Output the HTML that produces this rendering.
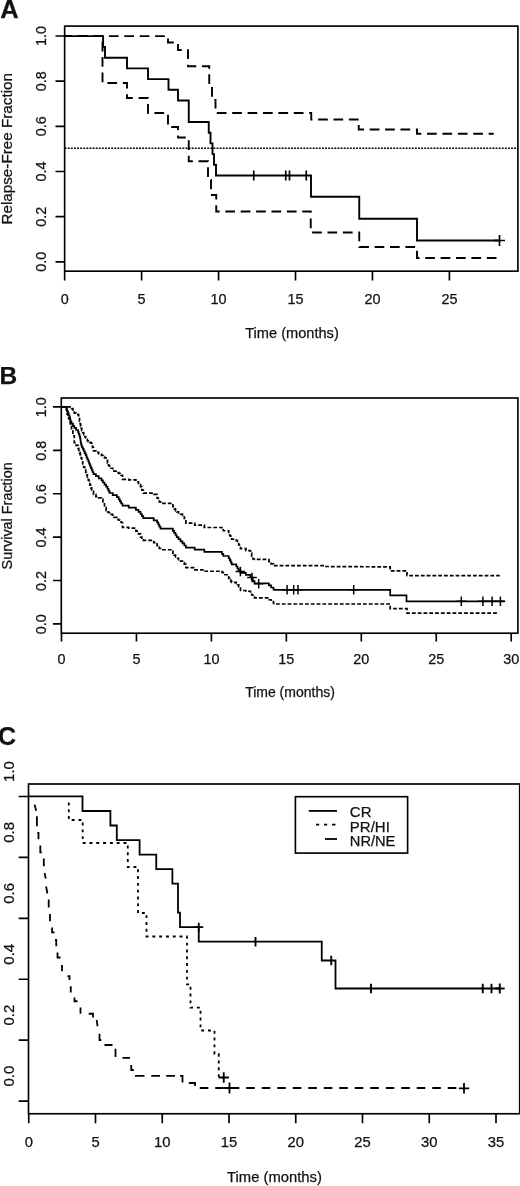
<!DOCTYPE html>
<html lang="en"><head><meta charset="utf-8"><title>Figure</title>
<style>
html,body{margin:0;padding:0;background:#fff;}
body{width:520px;height:1186px;overflow:hidden;}
svg{display:block;}
text{font-family:"Liberation Sans",Arial,sans-serif;fill:#111;stroke:#111;stroke-width:0.25px;}
</style></head><body>
<svg width="520" height="1186" viewBox="0 0 520 1186">
<rect width="520" height="1186" fill="#fff"/>
<rect x="64.66" y="26.1" width="453.24" height="245.06000000000003" fill="none" stroke="#000" stroke-width="1.65"/>
<path d="M55.5,261.8 H64.66 M55.5,216.64000000000001 H64.66 M55.5,171.48000000000002 H64.66 M55.5,126.32 H64.66 M55.5,81.16 H64.66 M55.5,36.0 H64.66 M64.66,271.16 V280.4 M141.61,271.16 V280.4 M218.56,271.16 V280.4 M295.51,271.16 V280.4 M372.46,271.16 V280.4 M449.41,271.16 V280.4 " fill="none" stroke="#000" stroke-width="1.65" stroke-linecap="butt" stroke-linejoin="miter"/>
<text x="46" y="261.8" font-size="14.4" text-anchor="middle" transform="rotate(-90 46 261.8)" >0.0</text>
<text x="64.66" y="304.4" font-size="14.4" text-anchor="middle" >0</text>
<text x="46" y="216.64" font-size="14.4" text-anchor="middle" transform="rotate(-90 46 216.64)" >0.2</text>
<text x="141.61" y="304.4" font-size="14.4" text-anchor="middle" >5</text>
<text x="46" y="171.48" font-size="14.4" text-anchor="middle" transform="rotate(-90 46 171.48)" >0.4</text>
<text x="218.56" y="304.4" font-size="14.4" text-anchor="middle" >10</text>
<text x="46" y="126.32" font-size="14.4" text-anchor="middle" transform="rotate(-90 46 126.32)" >0.6</text>
<text x="295.51" y="304.4" font-size="14.4" text-anchor="middle" >15</text>
<text x="46" y="81.16" font-size="14.4" text-anchor="middle" transform="rotate(-90 46 81.16)" >0.8</text>
<text x="372.46" y="304.4" font-size="14.4" text-anchor="middle" >20</text>
<text x="46" y="36.0" font-size="14.4" text-anchor="middle" transform="rotate(-90 46 36.0)" >1.0</text>
<text x="449.41" y="304.4" font-size="14.4" text-anchor="middle" >25</text>
<text x="292" y="338.4" font-size="14.6" text-anchor="middle" >Time (months)</text>
<text x="12" y="148.8" font-size="14.5" text-anchor="middle" transform="rotate(-90 12 148.8)" textLength="151.5" lengthAdjust="spacingAndGlyphs">Relapse-Free Fraction</text>
<text x="0.2" y="18.1" font-size="25.5" text-anchor="start" font-weight="bold" stroke="#111" stroke-width="0.4">A</text>
<path d="M64.66,148.2 H517.9" fill="none" stroke="#000" stroke-width="1.6" stroke-dasharray="1.9 1.2" stroke-linecap="butt" stroke-linejoin="miter"/>
<path d="M64.5,36.1 H103.1 V46.9 H105 V57.7 H127 V68.4 H148 V79.1 H168.5 V89.8 H178 V100.5 H188.75 V122 H208.75 V132.7 H210.5 V143.4 H212.5 V154.1 H214 V164.8 H216 V175.5 H311 V196.75 H359.25 V218.75 H417 V240.5 H499.5" fill="none" stroke="#000" stroke-width="1.9" stroke-linecap="butt" stroke-linejoin="miter"/>
<path d="M253.75,170.5 V180.5 M285.75,170.5 V180.5 M289.5,170.5 V180.5 M306.25,170.5 V180.5 " fill="none" stroke="#000" stroke-width="1.7" stroke-linecap="butt" stroke-linejoin="miter"/>
<path d="M499.5,235.0 V246.0 M494.0,240.5 H505.0" fill="none" stroke="#000" stroke-width="1.7" stroke-linecap="butt" stroke-linejoin="miter"/>
<path d="M64.5,36.1 H168 V42.5 H178 V50 H188 V66.25 H209.25 V85 H212 V100 H215.5 V113 H311.25 V119.5 H358.75 V129.5 H417 V133.75 H493.75" fill="none" stroke="#000" stroke-width="1.9" stroke-dasharray="9.7 5.7" stroke-dashoffset="1.8" stroke-linecap="butt" stroke-linejoin="miter"/>
<path d="M64.5,36.1 H102.5 V83 H127 V98 H148 V113 H168 V127 H178 V137.5 H188.75 V161.25 H208 V180 H211 V195 H216.25 V211.5 H310.75 V232.5 H359.25 V247 H417 V258 H500.75" fill="none" stroke="#000" stroke-width="1.9" stroke-dasharray="9.7 5.7" stroke-dashoffset="2.6" stroke-linecap="butt" stroke-linejoin="miter"/>
<rect x="61.3" y="398.0" width="456.59999999999997" height="235.20000000000005" fill="none" stroke="#000" stroke-width="1.65"/>
<path d="M53,623.90 H61.3 M53,580.50 H61.3 M53,537.10 H61.3 M53,493.70 H61.3 M53,450.30 H61.3 M53,406.90 H61.3 M61.50,633.2 V641.5 M136.45,633.2 V641.5 M211.40,633.2 V641.5 M286.35,633.2 V641.5 M361.30,633.2 V641.5 M436.25,633.2 V641.5 M511.20,633.2 V641.5 " fill="none" stroke="#000" stroke-width="1.65" stroke-linecap="butt" stroke-linejoin="miter"/>
<text x="45.6" y="624.3" font-size="14.4" text-anchor="middle" transform="rotate(-90 45.6 624.3)" >0.0</text>
<text x="45.6" y="580.9" font-size="14.4" text-anchor="middle" transform="rotate(-90 45.6 580.9)" >0.2</text>
<text x="45.6" y="537.5" font-size="14.4" text-anchor="middle" transform="rotate(-90 45.6 537.5)" >0.4</text>
<text x="45.6" y="494.1" font-size="14.4" text-anchor="middle" transform="rotate(-90 45.6 494.1)" >0.6</text>
<text x="45.6" y="450.7" font-size="14.4" text-anchor="middle" transform="rotate(-90 45.6 450.7)" >0.8</text>
<text x="45.6" y="407.3" font-size="14.4" text-anchor="middle" transform="rotate(-90 45.6 407.3)" >1.0</text>
<text x="61.5" y="664.4" font-size="14.4" text-anchor="middle" >0</text>
<text x="136.45" y="664.4" font-size="14.4" text-anchor="middle" >5</text>
<text x="211.4" y="664.4" font-size="14.4" text-anchor="middle" >10</text>
<text x="286.35" y="664.4" font-size="14.4" text-anchor="middle" >15</text>
<text x="361.3" y="664.4" font-size="14.4" text-anchor="middle" >20</text>
<text x="436.25" y="664.4" font-size="14.4" text-anchor="middle" >25</text>
<text x="511.2" y="664.4" font-size="14.4" text-anchor="middle" >30</text>
<text x="290" y="696.8" font-size="14" text-anchor="middle" >Time (months)</text>
<text x="11.8" y="515.8" font-size="14.4" text-anchor="middle" transform="rotate(-90 11.8 515.8)" >Survival Fraction</text>
<text x="-0.6" y="384.2" font-size="24.5" text-anchor="start" font-weight="bold" stroke="#111" stroke-width="0.4">B</text>
<path d="M61.3,406.9 H66.5 V409.0 H67.1 V411.1 H67.9 V413.2 H68.7 V415.3 H69.5 V417.4 H70.1 V419.5 H70.5 V421.6 H71.5 V423.7 H72.9 V425.8 H74.3 V427.9 H76.1 V430.0 H78.1 V432.1 H78.7 V434.2 H79.5 V436.3 H80.1 V438.4 H80.5 V440.5 H80.7 V442.6 H81.1 V444.7 H81.7 V446.8 H82.7 V448.9 H83.7 V451.0 H84.7 V453.1 H85.7 V455.2 H86.5 V457.3 H87.3 V459.4 H88.3 V461.5 H89.1 V463.6 H89.9 V465.7 H90.7 V467.8 H91.7 V469.9 H92.5 V472.0 H93.5 V474.1 H95.9 V476.2 H98.7 V478.3 H101.5 V480.4 H102.9 V482.5 H104.5 V484.6 H106.1 V486.7 H107.5 V488.8 H108.5 V490.9 H109.5 V493.0 H112.7 V495.1 H116.9 V497.2 H118.7 V499.3 H119.9 V501.4 H121.1 V503.5 H122.5 V505.6 H128.7 V507.7 H135.9 V509.8 H138.5 V511.9 H140.5 V514.0 H141.9 V516.1 H143.3 V518.2 H153.7 V520.3 H157.1 V522.4 H158.3 V524.5 H159.3 V526.6 H160.5 V528.7 H172.9 V530.8 H174.1 V532.9 H175.5 V535.0 H176.7 V537.1 H178.5 V539.2 H180.5 V541.3 H182.5 V543.4 H184.3 V545.5 H185.9 V547.6 H194.7 V549.7 H204.3 V551.8 H221.9 V553.9 H223.3 V556.0 H228.7 V558.1 H229.7 V560.2 H230.7 V562.3 H231.7 V564.4 H236.3 V566.5 H237.5 V568.6 H238.7 V570.7 H240.5 V572.8 H245.9 V574.9 H250.5 V577.0 H251.7 V579.1 H252.9 V581.2 H254.5 V583.3 H268.9 V585.4 H271.1 V587.5 H273.5 V589.6 H275 V589.8 L390.2,589.8 L390.2,595.4 L406.5,595.4 L406.5,601.3 L504.6,601.3" fill="none" stroke="#000" stroke-width="1.7" stroke-linecap="butt" stroke-linejoin="miter"/>
<path d="M61.3,406.9 H66.5 V406.9 H67.1 V406.9 H67.9 V406.9 H68.7 V406.9 H69.5 V406.9 H70.1 V406.9 H70.5 V406.9 H71.5 V408.55 H72.9 V410.99 H74.3 V413.21 H76.1 V414.35 H78.1 V414.86 H78.7 V417.1 H79.5 V421.3 H80.1 V423.68 H80.5 V424.87 H80.7 V426.05 H81.1 V428.03 H81.7 V430.6 H82.7 V432.62 H83.7 V434.64 H84.7 V436.57 H85.7 V438.02 H86.5 V439.31 H87.3 V440.77 H88.3 V441.58 H89.1 V442.03 H89.9 V442.47 H90.7 V442.97 H91.7 V445.1 H92.5 V447.33 H93.5 V450.97 H95.9 V452.42 H98.7 V453.99 H101.5 V455.41 H102.9 V456.63 H104.5 V457.93 H106.1 V460.31 H107.5 V463.03 H108.5 V465.29 H109.5 V468.27 H112.7 V471.15 H116.9 V472.65 H118.7 V473.4 H119.9 V474.0 H121.1 V475.23 H122.5 V479.32 H128.7 V479.9 H135.9 V481.85 H138.5 V484.55 H140.5 V486.55 H141.9 V490.09 H143.3 V493.13 H153.7 V494.36 H157.1 V498.17 H158.3 V499.99 H159.3 V501.81 H160.5 V503.41 H172.9 V506.71 H174.1 V508.79 H175.5 V510.88 H176.7 V511.94 H178.5 V513.01 H180.5 V514.15 H182.5 V515.67 H184.3 V518.52 H185.9 V523.13 H194.7 V525.2 H204.3 V527.5 H221.9 V528.6 H223.3 V530.77 H228.7 V533.38 H229.7 V535.69 H230.7 V538.0 H231.7 V539.25 H236.3 V540.55 H237.5 V541.46 H238.7 V544.93 H240.5 V548.65 H245.9 V550.63 H250.5 V553.19 H251.7 V556.1 H252.9 V559.01 H254.5 V559.44 H268.9 V561.53 H271.1 V563.87 H273.5 V565.6 H325 V566.5 L390.2,566.9 L390.2,570.8 L407,570.8 L407,575.6 L499.8,575.6" fill="none" stroke="#000" stroke-width="1.7" stroke-dasharray="3.8 2" stroke-linecap="butt" stroke-linejoin="miter"/>
<path d="M61.3,406.9 H66.5 V412.21 H67.1 V414.12 H67.9 V416.28 H68.7 V418.68 H69.5 V421.05 H70.1 V422.74 H70.5 V425.67 H71.5 V431.01 H72.9 V435.74 H74.3 V442.76 H76.1 V445.36 H78.1 V448.27 H78.7 V450.48 H79.5 V452.7 H80.1 V454.28 H80.5 V455.23 H80.7 V456.18 H81.1 V457.86 H81.7 V460.57 H82.7 V463.96 H83.7 V467.13 H84.7 V469.95 H85.7 V472.49 H86.5 V474.74 H87.3 V477.31 H88.3 V480.11 H89.1 V482.59 H89.9 V485.07 H90.7 V487.87 H91.7 V489.85 H92.5 V491.42 H93.5 V494.38 H95.9 V496.55 H98.7 V497.95 H101.5 V499.0 H102.9 V501.87 H104.5 V507.53 H106.1 V510.7 H107.5 V511.74 H108.5 V512.61 H109.5 V514.44 H112.7 V517.39 H116.9 V519.29 H118.7 V520.24 H119.9 V520.99 H121.1 V522.5 H122.5 V527.43 H128.7 V528.06 H135.9 V531.15 H138.5 V533.88 H140.5 V537.2 H141.9 V539.81 H143.3 V540.32 H153.7 V542.66 H157.1 V545.71 H158.3 V547.17 H159.3 V548.52 H160.5 V549.74 H172.9 V553.39 H174.1 V555.21 H175.5 V557.02 H176.7 V558.23 H178.5 V559.59 H180.5 V561.03 H182.5 V562.49 H184.3 V564.16 H185.9 V567.58 H194.7 V569.82 H204.3 V571.26 H221.9 V572.44 H223.3 V574.73 H228.7 V578.38 H229.7 V579.84 H230.7 V581.3 H231.7 V582.28 H236.3 V583.3 H237.5 V584.75 H238.7 V586.55 H240.5 V590.5 H245.9 V591.26 H250.5 V593.18 H251.7 V595.01 H252.9 V597.15 H254.5 V597.84 H268.9 V599.75 H271.1 V601.7 H273.5 V603.36 H275 V604 L390.2,604 L390.2,608.7 L407,608.7 L407,613.1 L497.9,613.1" fill="none" stroke="#000" stroke-width="1.7" stroke-dasharray="3.8 2" stroke-linecap="butt" stroke-linejoin="miter"/>
<path d="M240.4,566.7 V576.3 M235.6,571.5 H245.20000000000002" fill="none" stroke="#000" stroke-width="1.5" stroke-linecap="butt" stroke-linejoin="miter"/>
<path d="M252,572.7 V582.3 M247.2,577.5 H256.8" fill="none" stroke="#000" stroke-width="1.5" stroke-linecap="butt" stroke-linejoin="miter"/>
<path d="M258.7,579.0 V588.5999999999999 M253.89999999999998,583.8 H263.5" fill="none" stroke="#000" stroke-width="1.5" stroke-linecap="butt" stroke-linejoin="miter"/>
<path d="M287.1,585.0 V594.5999999999999 M282.3,589.8 H291.90000000000003" fill="none" stroke="#000" stroke-width="1.5" stroke-linecap="butt" stroke-linejoin="miter"/>
<path d="M293.7,585.0 V594.5999999999999 M288.9,589.8 H298.5" fill="none" stroke="#000" stroke-width="1.5" stroke-linecap="butt" stroke-linejoin="miter"/>
<path d="M298,585.0 V594.5999999999999 M293.2,589.8 H302.8" fill="none" stroke="#000" stroke-width="1.5" stroke-linecap="butt" stroke-linejoin="miter"/>
<path d="M353.7,585.0 V594.5999999999999 M348.9,589.8 H358.5" fill="none" stroke="#000" stroke-width="1.5" stroke-linecap="butt" stroke-linejoin="miter"/>
<path d="M461.3,596.5 V606.0999999999999 M456.5,601.3 H466.1" fill="none" stroke="#000" stroke-width="1.5" stroke-linecap="butt" stroke-linejoin="miter"/>
<path d="M482.9,596.5 V606.0999999999999 M478.09999999999997,601.3 H487.7" fill="none" stroke="#000" stroke-width="1.5" stroke-linecap="butt" stroke-linejoin="miter"/>
<path d="M492.1,596.5 V606.0999999999999 M487.3,601.3 H496.90000000000003" fill="none" stroke="#000" stroke-width="1.5" stroke-linecap="butt" stroke-linejoin="miter"/>
<path d="M500.4,596.5 V606.0999999999999 M495.59999999999997,601.3 H505.2" fill="none" stroke="#000" stroke-width="1.5" stroke-linecap="butt" stroke-linejoin="miter"/>
<rect x="28.5" y="784.0" width="491.20000000000005" height="329.75" fill="none" stroke="#000" stroke-width="1.65"/>
<path d="M18.7,1101.10 H28.5 M18.7,1040.18 H28.5 M18.7,979.26 H28.5 M18.7,918.34 H28.5 M18.7,857.42 H28.5 M18.7,796.50 H28.5 M28.75,1113.75 V1123.3 M95.50,1113.75 V1123.3 M162.25,1113.75 V1123.3 M229.00,1113.75 V1123.3 M295.75,1113.75 V1123.3 M362.50,1113.75 V1123.3 M429.25,1113.75 V1123.3 M496.00,1113.75 V1123.3 " fill="none" stroke="#000" stroke-width="1.65" stroke-linecap="butt" stroke-linejoin="miter"/>
<text x="14.2" y="1076.1" font-size="15" text-anchor="middle" transform="rotate(-90 14.2 1076.1)" >0.0</text>
<text x="14.2" y="1015.18" font-size="15" text-anchor="middle" transform="rotate(-90 14.2 1015.18)" >0.2</text>
<text x="14.2" y="954.26" font-size="15" text-anchor="middle" transform="rotate(-90 14.2 954.26)" >0.4</text>
<text x="14.2" y="893.34" font-size="15" text-anchor="middle" transform="rotate(-90 14.2 893.34)" >0.6</text>
<text x="14.2" y="832.42" font-size="15" text-anchor="middle" transform="rotate(-90 14.2 832.42)" >0.8</text>
<text x="14.2" y="771.5" font-size="15" text-anchor="middle" transform="rotate(-90 14.2 771.5)" >1.0</text>
<text x="28.75" y="1147.3" font-size="14.8" text-anchor="middle" >0</text>
<text x="95.5" y="1147.3" font-size="14.8" text-anchor="middle" >5</text>
<text x="162.25" y="1147.3" font-size="14.8" text-anchor="middle" >10</text>
<text x="229.0" y="1147.3" font-size="14.8" text-anchor="middle" >15</text>
<text x="295.75" y="1147.3" font-size="14.8" text-anchor="middle" >20</text>
<text x="362.5" y="1147.3" font-size="14.8" text-anchor="middle" >25</text>
<text x="429.25" y="1147.3" font-size="14.8" text-anchor="middle" >30</text>
<text x="496.0" y="1147.3" font-size="14.8" text-anchor="middle" >35</text>
<text x="274.5" y="1182" font-size="14.8" text-anchor="middle" >Time (months)</text>
<text x="-1.9" y="745.4" font-size="25" text-anchor="start" font-weight="bold" stroke="#111" stroke-width="0.4">C</text>
<path d="M28.6,796.3 H82.5 V811 H110.4 V825.5 H116.8 V840.1 H139.6 V854.6 H156.25 V869.1 H172.4 V883.6 H178 V912.7 H180 V927.2 H198.75 V941.7 H321.75 V960.5 H335.5 V988.5 H499.5" fill="none" stroke="#000" stroke-width="1.8" stroke-linecap="butt" stroke-linejoin="miter"/>
<path d="M198.75,922.7 V931.7 M194.25,927.2 H203.25" fill="none" stroke="#000" stroke-width="1.8" stroke-linecap="butt" stroke-linejoin="miter"/>
<path d="M255.5,937.0 V946.4000000000001 M331.25,955.8 V965.2 M371,983.8 V993.2 M482.75,983.8 V993.2 M491.5,983.8 V993.2 " fill="none" stroke="#000" stroke-width="1.9" stroke-linecap="butt" stroke-linejoin="miter"/>
<path d="M499.75,983.6 V993.4 M494.85,988.5 H504.65" fill="none" stroke="#000" stroke-width="1.9" stroke-linecap="butt" stroke-linejoin="miter"/>
<path d="M68.8,802.5 V820 H82.7 V843 H127.8 V867 H138 V913 H146.5 V936.5 H187 V984.3 H190.5 V1007.6 H200.5 V1030.5 H214.5 V1054 H218.75 V1077.5 H223.75" fill="none" stroke="#000" stroke-width="1.8" stroke-dasharray="2.9 3.9" stroke-linecap="butt" stroke-linejoin="miter"/>
<path d="M223.75,1072.3 V1082.7 M218.55,1077.5 H228.95" fill="none" stroke="#000" stroke-width="1.8" stroke-linecap="butt" stroke-linejoin="miter"/>
<path d="M34.6,804.6 L36.2,810.8 M36.9,816.2 L36.9,826.2 M37.3,833 L38.5,833 L38.5,839.2 M40.3,845.4 L40.3,852.3 L41.8,852.3 M43.8,858.5 L43.8,866.2 M44.6,873 L45.8,878.5 M46.1,886.5 L47.4,893.5 M48.7,899.6 L48.7,907.6 M50,914 L50,921.3 M52.1,927.6 L52.1,932.4 L54.5,932.4 M55,940 L56.25,940 L56.25,946.25 M57.5,952.5 L57.5,957.5 L60.5,957.5 M62,965 L62,971.25 M67.5,976.25 L69.5,976.25 L69.5,980 M70.75,986.25 L70.75,992.5 M74.5,997.5 L74.5,1001.25 L77.5,1001.25 M80.5,1007.5 L80.5,1013.75 M88.75,1013.75 L93,1013.75 L93,1017.5 M96.7,1020 L97.5,1026.25 M99.5,1033.75 L99.5,1040 L101.25,1040 M104.5,1045 L112.5,1045 M115.5,1048.75 L115.5,1057 M122.5,1057.8 L130,1057.8 M131.25,1065 L131.25,1070 L133.75,1070 M135,1075.8 L144.5,1075.8 M151.25,1075.8 L160,1075.8 M166.25,1075.8 L175,1075.8 M180,1075.8 L182.5,1075.8 L182.5,1082.5 M188.75,1083 L195,1083 L195,1086" fill="none" stroke="#000" stroke-width="1.8" stroke-linecap="butt" stroke-linejoin="miter"/>
<path d="M199.75,1088 H464" fill="none" stroke="#000" stroke-width="1.8" stroke-dasharray="8.6 6.9" stroke-linecap="butt" stroke-linejoin="miter"/>
<path d="M229.5,1082.5 V1093.5 M224.0,1088 H235.0" fill="none" stroke="#000" stroke-width="1.8" stroke-linecap="butt" stroke-linejoin="miter"/>
<path d="M464,1083.1 V1093.5 M458.8,1088.3 H469.2" fill="none" stroke="#000" stroke-width="1.8" stroke-linecap="butt" stroke-linejoin="miter"/>
<rect x="295.4" y="796.7" width="112.2" height="56.4" fill="#fff" stroke="#000" stroke-width="1.65"/>
<path d="M308.75,810.9 H337" fill="none" stroke="#000" stroke-width="1.8" stroke-linecap="butt" stroke-linejoin="miter"/>
<path d="M316,824.7 H319.2 M324,824.7 H327.2 M332,824.7 H335.5" fill="none" stroke="#000" stroke-width="1.8" stroke-linecap="butt" stroke-linejoin="miter"/>
<path d="M325,839 H337" fill="none" stroke="#000" stroke-width="1.8" stroke-linecap="butt" stroke-linejoin="miter"/>
<text x="349.8" y="817" font-size="15" text-anchor="start" >CR</text>
<text x="349.8" y="831.75" font-size="15" text-anchor="start" >PR/HI</text>
<text x="349.8" y="846.4" font-size="15" text-anchor="start" textLength="45.6" lengthAdjust="spacingAndGlyphs">NR/NE</text>
</svg>
</body></html>
